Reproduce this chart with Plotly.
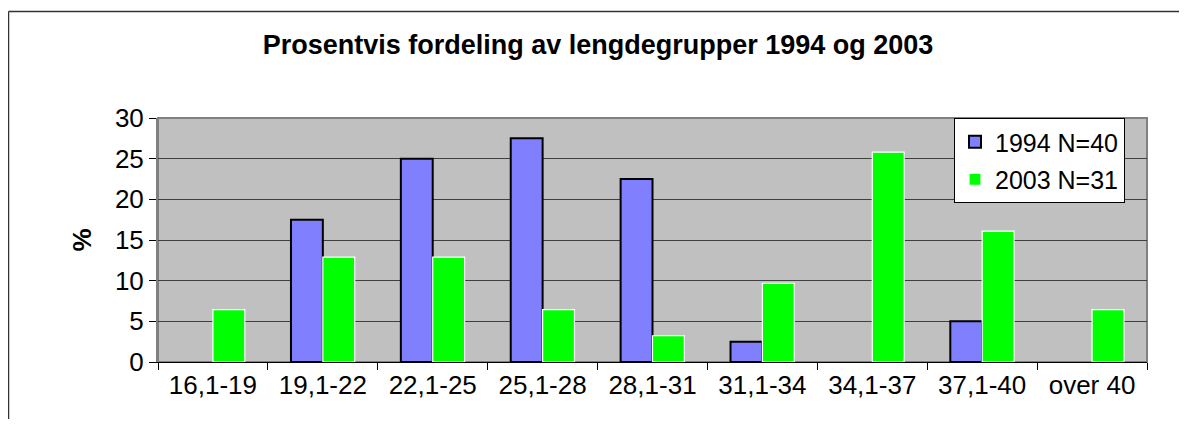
import plotly.graph_objects as go

categories = ["16,1-19", "19,1-22", "22,1-25", "25,1-28", "28,1-31",
              "31,1-34", "34,1-37", "37,1-40", "over 40"]
values_1994 = [0, 17.5, 25, 27.5, 22.5, 2.5, 0, 5, 0]
values_2003 = [6.45, 12.9, 12.9, 6.45, 3.23, 9.68, 25.8, 16.1, 6.45]
series_names = ["1994 N=40", "2003 N=31"]

FONT = "Liberation Sans, Arial, sans-serif"

# page body has an 8px margin; plot area in window: x 158..1147, y 118..362
W, H = 1171, 411
ML, MT = 150, 110
PW, PH = 989, 244
MR = W - ML - PW
MB = H - MT - PH


def nz(vals):
    # empty categories draw no bar (no stray outline at zero)
    return [v if v else None for v in vals]


fig = go.Figure()
fig.add_trace(go.Bar(x=categories, y=nz(values_1994), name=series_names[0],
                     marker=dict(color="#8080FF", line=dict(color="black", width=2)),
                     legendgroup="a"))
fig.add_trace(go.Bar(x=categories, y=nz(values_2003), name=series_names[1],
                     marker=dict(color="#00FF00", line=dict(color="white", width=1.2)),
                     legendgroup="b"))

bx0 = (8.5 - 158) / PW
by1 = (362 - 11.5) / PH

fig.update_layout(
    width=W, height=H,
    margin=dict(l=ML, r=MR, t=MT, b=MB, pad=0),
    paper_bgcolor="white",
    plot_bgcolor="#C0C0C0",
    barmode="group", bargap=0.42, bargroupgap=0,
    font=dict(family=FONT, size=26, color="black"),
    title=dict(text="<b>Prosentvis fordeling av lengdegrupper 1994 og 2003</b>",
               x=(598 - 8) / W, xref="container", xanchor="center",
               y=1 - 37 / H, yref="container", yanchor="middle",
               font=dict(family=FONT, size=27, color="black")),
    showlegend=True,
    legend=dict(x=(954 - 158) / PW, y=1.0, xanchor="left", yanchor="top",
                bgcolor="white", bordercolor="black", borderwidth=1,
                font=dict(family=FONT, size=25), traceorder="grouped",
                tracegroupgap=2, itemwidth=30),
    xaxis=dict(type="category", ticks="outside", tickson="boundaries",
               ticklen=7, tickcolor="black", showline=True, linecolor="black",
               linewidth=1, showgrid=False,
               tickfont=dict(family=FONT, size=26)),
    yaxis=dict(range=[0, 30], dtick=5, ticks="outside", ticklen=7, tickcolor="black",
               showline=True, linecolor="#808080", linewidth=2,
               showgrid=True, gridcolor="#404040", gridwidth=1,
               zeroline=False,
               title=dict(text="<b>%</b>", font=dict(family=FONT, size=26), standoff=16),
               tickfont=dict(family=FONT, size=26)),
    shapes=[
        dict(type="rect", xref="paper", yref="paper", x0=0, x1=1, y0=0, y1=1,
             line=dict(color="#808080", width=2), layer="below"),
        dict(type="line", xref="paper", yref="paper",
             x0=bx0, x1=(1300 - 158) / PW, y0=by1, y1=by1,
             line=dict(color="#333333", width=1.5), layer="below"),
        dict(type="line", xref="paper", yref="paper",
             x0=bx0, x1=bx0, y0=-(480 - 362) / PH, y1=by1,
             line=dict(color="#333333", width=1.5), layer="below"),
    ],
)

fig.write_html("out.html")
